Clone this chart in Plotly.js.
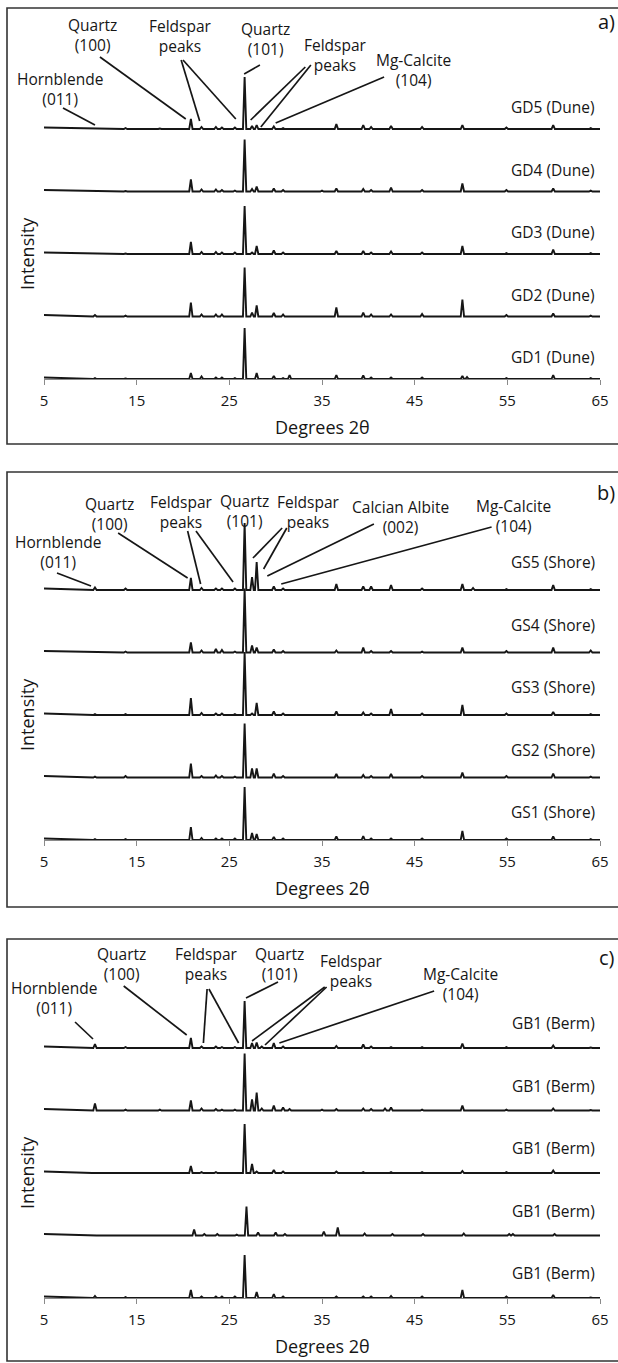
<!DOCTYPE html>
<html><head><meta charset="utf-8">
<script src="https://cdn.plot.ly/plotly-3.0.1.min.js"></script>
<style>html,body{margin:0;padding:0;background:#fff;} #chart{width:618px;height:1363px;}</style>
</head><body><div id="chart"></div>
<script>
// ---------------- DATA ----------------
// common peak positions (degrees 2-theta)
const twoTheta = [10.5, 13.8, 17.5, 20.85, 22.0, 23.55, 24.2, 25.6, 26.65, 27.45, 27.95, 28.5, 29.8, 30.8, 31.5, 35.0, 36.55, 39.45, 40.3, 41.8, 42.45, 45.8, 50.15, 50.65, 51.3, 54.9, 55.3, 59.95, 64.0];
// low-angle background
const bgTwoTheta = [5, 7, 9, 10.2];
const bgLevel = [1.5, 1.2, 0.6, 0];

// Panel a) Dune samples – relative intensities at twoTheta
const gd5 = [0.5,1,0.5,10,2,2,1.5,1.5,52,3,4,0,2.5,1,0,0.5,5,4,2,0,3,2,4,0,0,1.5,0,4,1];
const gd4 = [0.5,0.5,0.3,12,2,2,1.5,1,52,2.5,5,0,3,1.5,0,1,3,2.5,1.5,0,4,1.5,8,0,0,1.5,0,3,1];
const gd3 = [0.5,0.5,0,12,2,2,1.5,1.5,48,1.5,8,0,3.5,1.5,0,0,3,3,1.5,0,2.5,1.5,8,0,0,1,0,4.5,1];
const gd2 = [1.5,1,0,14,2,2,2,0.5,49,4,11,0,3.5,2,0,0,9,4,2,0,2,2.5,17,0,0,1.5,0,3,1];
const gd1 = [1,0.5,0,6,2.5,1.5,1.5,1,51,0,6,0,3,1,4,0,4,3.5,1.5,0,1.5,1.5,3,2,0,1,0,4,1];

// Panel b) Shore samples
const gs5 = [2.5,1.5,0,12,2,1.5,1.5,1.5,67,13,28,0,3.5,1.5,0,0,6,3.5,3.5,0,5,1.5,6,0,2,1,0,5,1];
const gs4 = [0.5,1,0,10,2,3.5,2.5,1,64,7,5,0,3,1.5,0,0,2,5,1.5,0,1.5,1,5,0,0,1.5,0,5,2];
const gs3 = [1,1,0,17,2,1.5,1.5,1,63,1.5,12,0,3.5,1.5,0,0,3.5,2.5,1.5,0,6,1.5,10,0,0,1.5,0,3,1];
const gs2 = [1,1.5,0,14,1.5,2,1.5,1,54,9,9,0,4,1.5,0,0,3.5,2.5,1.5,0,3.5,1.5,5,0,0,1.5,0,4,1];
const gs1 = [1,1,0,13,2,1.5,1.5,1.5,53,7,6,0,3,1.5,0,0,3.5,4,1.5,0,1.5,1.5,9,0,0,1.5,0,3.5,1];

// Panel c) Berm samples
const gb1a = [4,1,0.5,10,1.5,1.5,1,1,47,5,5.5,1.5,5,1.5,0,0,2,3.5,1.5,0,1,1,4.5,0,0,1,0,2.5,0.5];
const gb1b = [7,1,1,10,2,1.5,1,1,57,11,18,2,5,3,1.5,1,1.5,2,1.5,2,3,1,5,0,0,1,0,2,0.5];
const gb1c = [0,0,0,7,1,1,0,0,49,9,1.5,0,3,1.5,0,0,1.5,1,0,0,1,1,2,0,0,1,0,2.5,0];
const gb1dTwoTheta = [10.5, 21.2, 22.3, 23.7, 25.8, 26.85, 28.1, 30.0, 31.0, 35.2, 36.7, 39.6, 42.6, 45.9, 50.3, 55.2, 55.6, 60.1];
const gb1d = [0.5, 6, 1.5, 1.5, 1, 29, 3, 3, 1.5, 4, 8, 2, 1.5, 1.5, 2, 1.5, 1.5, 1.5];
const gb1e = [2,1,0,8,1.5,1.5,1.5,1.5,43,0,6,0,4,1.5,0,0,1.5,1.5,1.5,0,2,1.5,8,0,0,1.5,0,3,0.5];

const labelsA = ['GD5 (Dune)','GD4 (Dune)','GD3 (Dune)','GD2 (Dune)','GD1 (Dune)'];
const labelsB = ['GS5 (Shore)','GS4 (Shore)','GS3 (Shore)','GS2 (Shore)','GS1 (Shore)'];
const labelsC = ['GB1 (Berm)','GB1 (Berm)','GB1 (Berm)','GB1 (Berm)','GB1 (Berm)'];
const xTicks = [5,15,25,35,45,55,65];

// ---------------- LAYOUT / STYLE ----------------
const W = 618, H = 1363;
const px = v => v / W, py = v => 1 - v / H;
const STEP = 62.5;      // vertical offset between stacked patterns
const HW = 0.18;        // drawn half-width of a peak
const FONT = '"Open Sans", "Liberation Sans", sans-serif';
const INK = '#161616';

function pattern(pos, hts, offset) {
  const pts = bgTwoTheta.map((x, i) => [x, bgLevel[i]]);
  pos.forEach((p, i) => { if (hts[i] > 0) pts.push([p - HW, 0], [p, hts[i]], [p + HW, 0]); });
  pts.push([65, 0]);
  pts.sort((a, b) => a[0] - b[0]);
  return { x: pts.map(p => p[0]), y: pts.map(p => p[1] + offset) };
}

const panels = [
  { key: '', samples: [[twoTheta,gd5],[twoTheta,gd4],[twoTheta,gd3],[twoTheta,gd2],[twoTheta,gd1]], labels: labelsA,
    top: 8, bottom: 444, base: 379, domTop: 10, letter: 'a)', letterY: 22, labOff: 22,
    notes: [['Hornblende<br>(011)',6.7,290],['Quartz<br>(100)',10.2,344],['Feldspar<br>peaks',19.7,343],['Quartz<br>(101)',28.85,340],['Feldspar<br>peaks',36.5,324],['Mg-Calcite<br>(104)',44.9,309]],
    lines: [[7.05,271,10.5,254],[11.04,322,20.3,260],[19.8,319,21.8,258],[20.0,319,25.7,260],[26.6,305,28.3,314],[33.2,312,27.3,259],[33.8,314,28.4,252],[41.7,302,30.0,256]] },
  { key: '2', samples: [[twoTheta,gs5],[twoTheta,gs4],[twoTheta,gs3],[twoTheta,gs2],[twoTheta,gs1]], labels: labelsB,
    top: 472, bottom: 907, base: 840, domTop: 474, letter: 'b)', letterY: 493, labOff: 28,
    notes: [['Hornblende<br>(011)',6.46,288],['Quartz<br>(100)',12.1,326],['Feldspar<br>peaks',19.8,328.5],['Quartz<br>(101)',26.6,329],['Feldspar<br>peaks',33.5,328.5],['Calcian Albite<br>(002)',43.5,323.5],['Mg-Calcite<br>(104)',55.7,324.5]],
    lines: [[6.4,267,10.07,254],[13.0,307,20.5,262],[20.5,309,21.9,256],[21.4,309,25.4,258],[30.7,312,27.55,282],[31.2,312,28.7,271],[40.6,316,29.1,264],[53.3,313,30.6,256]] },
  { key: '3', samples: [[twoTheta,gb1a],[twoTheta,gb1b],[twoTheta,gb1c],[gb1dTwoTheta,gb1d],[twoTheta,gb1e]], labels: labelsC,
    top: 939, bottom: 1361, base: 1298, domTop: 941, letter: 'c)', letterY: 957, labOff: 25,
    notes: [['Hornblende<br>(011)',6.1,300.5],['Quartz<br>(100)',13.4,334],['Feldspar<br>peaks',22.5,334],['Quartz<br>(101)',30.4,334],['Feldspar<br>peaks',38.2,327.5],['Mg-Calcite<br>(104)',49.9,314]],
    lines: [[8.35,276,10.29,259],[13.6,312,20.4,263],[22.6,309,22.2,255],[22.8,309,26.0,255],[26.8,300,30.25,316],[35.3,311,27.45,257],[35.5,311,28.85,253],[47.1,307,30.4,255]] }
];

const data = [], annotations = [], shapes = [];
const layout = {
  width: W, height: H, margin: {l:0, r:0, t:0, b:0},
  paper_bgcolor: '#fff', plot_bgcolor: 'rgba(0,0,0,0)', showlegend: false,
  font: {family: FONT, color: INK}
};

panels.forEach(P => {
  const xa = 'x' + P.key, ya = 'y' + P.key;
  const xName = 'xaxis' + P.key, yName = 'yaxis' + P.key;
  const yTop = P.base - P.domTop;
  layout[xName] = {
    domain: [px(44), px(600)], range: [5, 65], anchor: ya,
    tickvals: xTicks, ticktext: xTicks.map(String),
    ticks: 'outside', ticklen: 5, tickcolor: '#8a8a8a', tickwidth: 1,
    showline: true, linecolor: '#8a8a8a', linewidth: 1,
    showgrid: false, zeroline: false, fixedrange: true,
    tickfont: {family: FONT, size: 15, color: INK}, ticklabelstandoff: 3
  };
  layout[yName] = {
    domain: [py(P.base), py(P.domTop)], range: [0, yTop], anchor: xa,
    visible: false, fixedrange: true
  };
  P.samples.forEach((s, i) => {
    const off = (P.samples.length - 1 - i) * STEP;
    const d = pattern(s[0], s[1], off);
    data.push({ type: 'scatter', mode: 'lines', x: d.x, y: d.y, xaxis: xa, yaxis: ya,
      line: {color: INK, width: 1.9}, hoverinfo: 'skip' });
    annotations.push({ xref: xa, yref: ya, x: 64.7, y: off + P.labOff, text: P.labels[i],
      showarrow: false, xanchor: 'right', yanchor: 'middle', font: {family: FONT, size: 15.5, color: INK} });
  });
  P.notes.forEach(n => annotations.push({ xref: xa, yref: ya, x: n[1], y: n[2], text: n[0],
    showarrow: false, xanchor: 'center', yanchor: 'middle', align: 'center',
    font: {family: FONT, size: 15.5, color: INK} }));
  P.lines.forEach(l => shapes.push({ type: 'line', xref: xa, yref: ya, x0: l[0], y0: l[1], x1: l[2], y1: l[3],
    line: {color: INK, width: 1.7} }));
  // frame
  shapes.push({ type: 'rect', xref: 'paper', yref: 'paper', x0: px(7), x1: 1.05, y0: py(P.bottom), y1: py(P.top),
    line: {color: '#333333', width: 1.6}, fillcolor: 'rgba(0,0,0,0)' });
  annotations.push({ xref: 'paper', yref: 'paper', x: px(617), y: py(P.letterY), text: P.letter, showarrow: false,
    xanchor: 'right', yanchor: 'middle', font: {family: FONT, size: 20, color: INK} });
  annotations.push({ xref: 'paper', yref: 'paper', x: px(322), y: py(P.base + 48), text: 'Degrees 2θ', showarrow: false,
    xanchor: 'center', yanchor: 'middle', font: {family: FONT, size: 18, color: INK} });
  annotations.push({ xref: 'paper', yref: 'paper', x: px(27), y: py(P.base - 2 * STEP), text: 'Intensity', showarrow: false,
    textangle: -90, xanchor: 'center', yanchor: 'middle', font: {family: FONT, size: 18, color: INK} });
});
layout.annotations = annotations;
layout.shapes = shapes;

Plotly.newPlot('chart', data, layout, {staticPlot: true, displayModeBar: false});
</script></body></html>
